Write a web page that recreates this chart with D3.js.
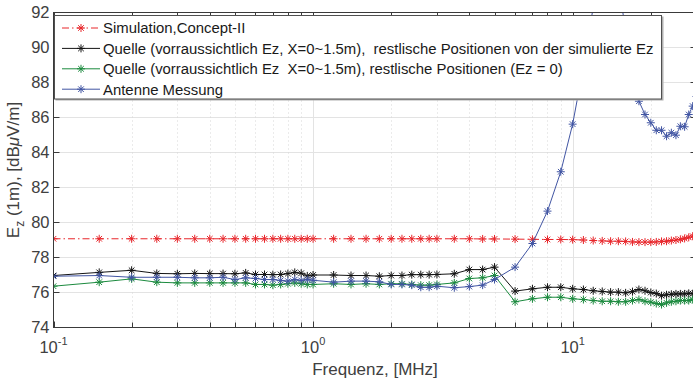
<!DOCTYPE html>
<html>
<head>
<meta charset="utf-8">
<script src="https://cdn.jsdelivr.net/npm/d3@7"></script>
<style>
  body { margin: 0; background: #fff; }
  svg { display: block; font-family: "Liberation Sans", Arial, Helvetica, sans-serif; }
</style>
</head>
<body>
<div id="chart"></div>
<script>
// frequencies in MHz (log axis)
var freq = [0.1, 0.15, 0.2, 0.25, 0.3, 0.35, 0.4, 0.45, 0.5, 0.55, 0.6, 0.65, 0.7, 0.75, 0.8, 0.85, 0.9, 0.95, 1.0,
            1.2, 1.4, 1.6, 1.8, 2.0, 2.2, 2.4, 2.6, 2.8, 3.0, 3.5, 4.0, 4.5, 5.0,
            6, 7, 8, 9, 10, 11, 12, 13, 14, 15, 16, 17, 18, 19, 20, 21, 22, 23, 24, 25, 26, 27, 28, 29, 30];

var simulation = [79.07, 79.07, 79.07, 79.07, 79.07, 79.07, 79.07, 79.07, 79.07, 79.07, 79.07, 79.07, 79.07, 79.07, 79.07, 79.07, 79.07, 79.07, 79.07,
                  79.07, 79.07, 79.07, 79.07, 79.07, 79.07, 79.07, 79.07, 79.07, 79.07, 79.07, 79.07, 79.06, 79.06,
                  79.05, 79.04, 79.03, 79.03, 79.02, 79.0, 78.97, 78.95, 78.93, 78.93, 78.92, 78.89, 78.88, 78.88, 78.88, 78.89, 78.92, 78.93, 78.97, 79.0, 79.04, 79.09, 79.15, 79.22, 79.28];

var quelleSim = [76.97, 77.15, 77.27, 77.09, 77.07, 77.09, 77.08, 77.08, 77.07, 77.12, 77.03, 77.03, 77.02, 77.03, 77.08, 77.15, 77.1, 76.95, 77.0,
                 77.0, 76.97, 76.97, 76.93, 76.97, 76.97, 77.02, 77.02, 77.02, 77.03, 77.07, 77.31, 77.31, 77.45,
                 76.08, 76.21, 76.3, 76.3, 76.21, 76.17, 76.1, 76.06, 76.02, 76.02, 75.98, 76.05, 76.17, 76.1, 76.0, 75.94, 75.82, 75.87, 75.9, 75.92, 75.92, 75.92, 75.95, 75.93, 75.95];

var quelleNull = [76.36, 76.59, 76.78, 76.59, 76.55, 76.55, 76.55, 76.55, 76.55, 76.55, 76.46, 76.46, 76.42, 76.46, 76.5, 76.55, 76.5, 76.46, 76.46,
                  76.5, 76.46, 76.5, 76.46, 76.5, 76.5, 76.46, 76.42, 76.42, 76.46, 76.55, 76.8, 76.84, 76.97,
                  75.47, 75.64, 75.73, 75.73, 75.64, 75.6, 75.54, 75.5, 75.5, 75.47, 75.47, 75.54, 75.6, 75.5, 75.45, 75.37, 75.31, 75.41, 75.47, 75.5, 75.54, 75.54, 75.54, 75.6, 75.6];

var antenne = [76.93, 76.97, 76.87, 76.87, 76.87, 76.84, 76.84, 76.87, 76.74, 76.84, 76.8, 76.74, 76.74, 76.69, 76.65, 76.74, 76.69, 76.74, 76.7,
               76.59, 76.65, 76.65, 76.61, 76.46, 76.46, 76.42, 76.3, 76.3, 76.36, 76.27, 76.34, 76.42, 76.74,
               77.45, 78.8, 80.65, 82.9, 85.62, 88.9, 92.3, 94.8, 95.3, 93.6, 91.0, 88.6, 86.93, 86.17, 85.7, 85.27, 85.27, 84.93, 85.13, 84.99, 85.5, 85.47, 86.17, 86.65, 87.2];

var legendLabels = [
    'Simulation,Concept-II',
    'Quelle (vorraussichtlich Ez, X=0~1.5m),  restlische Positionen von der simulierte Ez',
    'Quelle (vorraussichtlich Ez  X=0~1.5m), restlische Positionen (Ez = 0)',
    'Antenne Messung'
];
var yTicks = [74, 76, 78, 80, 82, 84, 86, 88, 90, 92];
var xMajor = [0.1, 1, 10];
var xMajorExp = ['-1', '0', '1'];

var width = 693, height = 379;
var plot = {left: 53.5, right: 696.5, top: 12.5, bottom: 327.5};

var series = [
    {name: legendLabels[0], values: simulation, color: '#e8262b', dash: '7,3,1.5,3'},
    {name: legendLabels[1], values: quelleSim, color: '#141414', dash: null},
    {name: legendLabels[2], values: quelleNull, color: '#1b8a3e', dash: null},
    {name: legendLabels[3], values: antenne, color: '#4155a3', dash: null}
];

var svg = d3.select('#chart').append('svg')
    .attr('width', width)
    .attr('height', height);

var x = d3.scaleLog().domain([0.1, 30]).range([plot.left, plot.right]);
var y = d3.scaleLinear().domain([74, 92]).range([plot.bottom, plot.top]);

var xMinor = [];
[0.1, 1, 10].forEach(function(d) {
    for (var k = 2; k <= 9; k++) {
        if (d * k <= 30) xMinor.push(d * k);
    }
});

// grid
var grid = svg.append('g');
grid.selectAll('.hgrid').data(yTicks).enter().append('line')
    .attr('x1', plot.left).attr('x2', plot.right)
    .attr('y1', function(d) { return y(d); }).attr('y2', function(d) { return y(d); })
    .attr('stroke', '#e3e3e3').attr('stroke-width', 1);
grid.selectAll('.vminor').data(xMinor).enter().append('line')
    .attr('x1', function(d) { return Math.round(x(d)) + 0.5; }).attr('x2', function(d) { return Math.round(x(d)) + 0.5; })
    .attr('y1', plot.top).attr('y2', plot.bottom)
    .attr('stroke', '#d6d6d6').attr('stroke-width', 1).attr('stroke-dasharray', '1,3');
grid.selectAll('.vmajor').data([1, 10]).enter().append('line')
    .attr('x1', function(d) { return Math.round(x(d)) + 0.5; }).attr('x2', function(d) { return Math.round(x(d)) + 0.5; })
    .attr('y1', plot.top).attr('y2', plot.bottom)
    .attr('stroke', '#e3e3e3').attr('stroke-width', 1);

// data
svg.append('clipPath').attr('id', 'clip')
    .append('rect')
    .attr('x', plot.left).attr('y', plot.top)
    .attr('width', plot.right - plot.left).attr('height', plot.bottom - plot.top);

var star = 'M-4,0H4M0,-4V4M-2.8,-2.8L2.8,2.8M-2.8,2.8L2.8,-2.8';

var line = d3.line()
    .x(function(d, i) { return x(freq[i]); })
    .y(function(d) { return y(d); });

var plotArea = svg.append('g').attr('clip-path', 'url(#clip)');
series.forEach(function(s) {
    var g = plotArea.append('g');
    g.append('path')
        .attr('d', line(s.values))
        .attr('fill', 'none')
        .attr('stroke', s.color)
        .attr('stroke-width', 1)
        .attr('stroke-dasharray', s.dash);
    g.selectAll('path.m').data(s.values).enter().append('path')
        .attr('class', 'm')
        .attr('d', star)
        .attr('transform', function(d, i) { return 'translate(' + x(freq[i]) + ',' + y(d) + ')'; })
        .attr('fill', 'none')
        .attr('stroke', s.color)
        .attr('stroke-width', 1);
});

// frame and ticks
var axisColor = '#3a3a3a';
svg.append('rect')
    .attr('x', plot.left).attr('y', plot.top)
    .attr('width', plot.right - plot.left).attr('height', plot.bottom - plot.top)
    .attr('fill', 'none').attr('stroke', axisColor).attr('stroke-width', 1);

var ticks = svg.append('g').attr('stroke', axisColor).attr('stroke-width', 1);
yTicks.forEach(function(d) {
    ticks.append('line').attr('x1', plot.left).attr('x2', plot.left + 6).attr('y1', y(d)).attr('y2', y(d));
    ticks.append('line').attr('x1', plot.right).attr('x2', plot.right - 6).attr('y1', y(d)).attr('y2', y(d));
});
xMajor.concat(xMinor).forEach(function(d) {
    var len = xMajor.indexOf(d) >= 0 ? 6 : 5;
    var px = Math.round(x(d)) + 0.5;
    ticks.append('line').attr('x1', px).attr('x2', px).attr('y1', plot.bottom).attr('y2', plot.bottom - len);
    ticks.append('line').attr('x1', px).attr('x2', px).attr('y1', plot.top).attr('y2', plot.top + len);
});

// tick labels
var labelColor = '#404040';
svg.selectAll('.ylab').data(yTicks).enter().append('text')
    .attr('x', plot.left - 4)
    .attr('y', function(d) { return y(d); })
    .attr('dy', '0.36em')
    .attr('text-anchor', 'end')
    .attr('font-size', '16.5px')
    .attr('fill', labelColor)
    .text(function(d) { return d; });

xMajor.forEach(function(d, i) {
    var t = svg.append('text')
        .attr('x', x(d))
        .attr('y', 352.5)
        .attr('text-anchor', 'middle')
        .attr('font-size', '16.5px')
        .attr('fill', labelColor);
    t.append('tspan').text('10');
    t.append('tspan').attr('dy', '-8').attr('font-size', '11px').text(xMajorExp[i]);
});

// axis titles
svg.append('text')
    .attr('x', (plot.left + plot.right) / 2)
    .attr('y', 374.5)
    .attr('text-anchor', 'middle')
    .attr('font-size', '17px')
    .attr('fill', labelColor)
    .text('Frequenz, [MHz]');

var yl = svg.append('text')
    .attr('transform', 'translate(18.5,' + ((plot.top + plot.bottom) / 2) + ') rotate(-90)')
    .attr('text-anchor', 'middle')
    .attr('font-size', '17px')
    .attr('fill', labelColor);
yl.append('tspan').text('E');
yl.append('tspan').attr('dy', '5').attr('font-size', '12px').text('z');
yl.append('tspan').attr('dy', '-5').text(' (1m), [dB');
yl.append('tspan').attr('font-style', 'italic').text('\u03bc');
yl.append('tspan').text('V/m]');

// legend
var legend = svg.append('g');
legend.append('rect')
    .attr('x', 55.5).attr('y', 16.5).attr('width', 608).attr('height', 84)
    .attr('fill', '#b0b0b0');
legend.append('rect')
    .attr('x', 54.5).attr('y', 15.5).attr('width', 607).attr('height', 83.5)
    .attr('fill', '#fff').attr('stroke', '#505050').attr('stroke-width', 1);

var rows = legend.selectAll('.row').data(series).enter().append('g')
    .attr('transform', function(d, i) { return 'translate(0,' + (28 + i * 20.4) + ')'; });
rows.append('line')
    .attr('x1', 62).attr('x2', 100)
    .attr('stroke', function(d) { return d.color; })
    .attr('stroke-width', 1)
    .attr('stroke-dasharray', function(d) { return d.dash; });
rows.append('path')
    .attr('d', star)
    .attr('transform', 'translate(81,0)')
    .attr('fill', 'none')
    .attr('stroke', function(d) { return d.color; });
rows.append('text')
    .attr('x', 103)
    .attr('dy', '0.36em')
    .attr('font-size', '14.9px')
    .attr('fill', '#1a1a1a')
    .style('white-space', 'pre')
    .text(function(d) { return d.name; });
</script>
</body>
</html>
